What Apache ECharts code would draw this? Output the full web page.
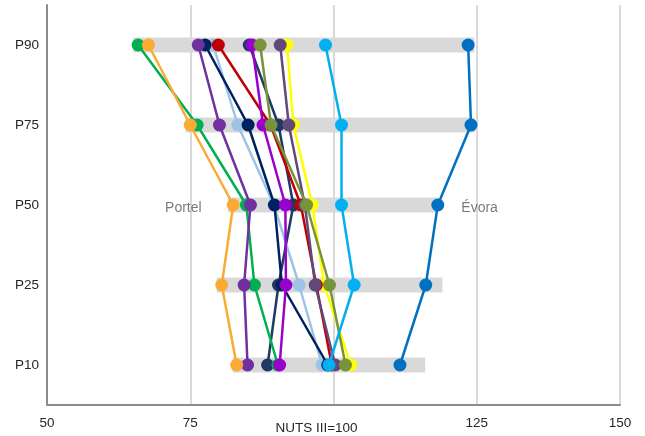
<!DOCTYPE html>
<html>
<head>
<meta charset="utf-8">
<script src="https://cdn.jsdelivr.net/npm/echarts@6/dist/echarts.min.js"></script>
<style>html,body{margin:0;padding:0;background:#fff}#c{width:645px;height:436px}</style>
</head>
<body>
<div id="c"></div>
<script>
// Percentile categories (top to bottom)
const categories = ['P90', 'P75', 'P50', 'P25', 'P10'];
// x-axis ticks
const xTicks = [50, 75, 100, 125, 150];
const xTickLabels = ['50', '75', 'NUTS III=100', '125', '150'];

// Grey range bars per percentile
const rangeMin = [65.0, 74.2, 81.6, 79.6, 82.4];
const rangeMax = [124.6, 124.7, 118.2, 119.0, 116.0];

// Municipality series (values for P90, P75, P50, P25, P10)
const yellowVals   = [91.9, 93.0, 96.3, 98.4, 103.0];
const navy2Vals    = [85.3, 90.4, 93.0, 90.4, 88.5];
const lightBlueVals= [79.0, 83.3, 89.6, 94.0, 98.0];
const redVals      = [79.9, 89.0, 94.3, 97.0, 99.7];
const navyVals     = [77.6, 85.1, 89.7, 91.0, 99.0];
const greenVals    = [65.9, 76.2, 84.8, 86.2, 90.3];
const magentaVals  = [85.8, 87.7, 91.6, 91.7, 90.6];
const darkPurpleVals=[90.7, 92.2, 95.0, 96.8, 100.3];
const oliveVals    = [87.2, 89.1, 95.3, 99.3, 102.1];
const purpleVals   = [76.4, 80.1, 85.5, 84.4, 85.0];
const portelVals   = [67.7, 75.0, 82.5, 80.5, 83.1];
const cyanVals     = [98.6, 101.4, 101.4, 103.6, 99.2];
const evoraVals    = [123.5, 124.0, 118.2, 116.1, 111.6];

// Text annotations
const annotNames = ['Portel', 'Évora'];
const annotX = [73.8, 125.5];
const annotCat = ['P50', 'P50'];

const seriesDefs = [
  {name: 'M1', vals: yellowVals, color: '#FFFF00'},
  {name: 'M2', vals: navy2Vals, color: '#1F3864'},
  {name: 'M3', vals: lightBlueVals, color: '#9DC3E6'},
  {name: 'M4', vals: redVals, color: '#C00000'},
  {name: 'M5', vals: navyVals, color: '#002060'},
  {name: 'M6', vals: greenVals, color: '#00B050'},
  {name: 'M7', vals: magentaVals, color: '#9900CC'},
  {name: 'M8', vals: darkPurpleVals, color: '#604A7B'},
  {name: 'M9', vals: oliveVals, color: '#77933C'},
  {name: 'M10', vals: purpleVals, color: '#7030A0'},
  {name: 'Portel', vals: portelVals, color: '#F9AB34'},
  {name: 'M12', vals: cyanVals, color: '#00B0F0'},
  {name: 'Évora', vals: evoraVals, color: '#0070C0'}
];

const series = [];
categories.forEach((c, i) => {
  series.push({
    type: 'line', name: 'range-' + c, silent: true, symbol: 'none', z: 1,
    data: [[rangeMin[i], c], [rangeMax[i], c]],
    lineStyle: {width: 15, color: '#D9D9D9', cap: 'butt'},
    animation: false
  });
});
seriesDefs.forEach((s, k) => {
  series.push({
    type: 'line', name: s.name, z: 3 + k,
    data: s.vals.map((v, i) => [v, categories[i]]),
    symbol: 'circle', symbolSize: 13,
    itemStyle: {color: s.color},
    lineStyle: {width: 2.5, color: s.color},
    animation: false
  });
});
series.push({
  type: 'scatter', name: 'labels', symbolSize: 0, silent: true, z: 30,
  data: annotNames.map((n, i) => ({name: n, value: [annotX[i], annotCat[i]]})),
  label: {show: true, position: 'inside', formatter: p => p.name, color: '#595959',
          fontSize: 14, fontFamily: 'Liberation Sans, Arial, sans-serif', offset: [0, 3]},
  animation: false
});

const chart = echarts.init(document.getElementById('c'), null, {renderer: 'canvas'});
chart.setOption({
  backgroundColor: '#fff',
  animation: false,
  grid: {left: 47, right: 25, top: 5, bottom: 31, containLabel: false},
  xAxis: {
    type: 'value', min: 50, max: 150, interval: 25,
    axisLine: {show: true, lineStyle: {color: '#8C8C8C', width: 2}},
    axisTick: {show: false},
    splitLine: {show: true, lineStyle: {color: '#D9D9D9', width: 2}},
    axisLabel: {
      margin: 11, color: '#262626', fontSize: 13.5, fontFamily: 'Liberation Sans, Arial, sans-serif',
      formatter: v => {
        const idx = xTicks.indexOf(v);
        const t = idx >= 0 ? xTickLabels[idx] : '';
        return v === 100 ? '{n|' + t + '}' : t;
      },
      rich: {n: {fontSize: 13.5, color: '#262626', fontFamily: 'Liberation Sans, Arial, sans-serif', padding: [5, 34, 0, 0]}}
    }
  },
  yAxis: {
    type: 'category', data: categories, inverse: true,
    axisLine: {show: true, lineStyle: {color: '#8C8C8C', width: 2}},
    axisTick: {show: false},
    splitLine: {show: false},
    axisLabel: {margin: 8, color: '#262626', fontSize: 13.5, fontFamily: 'Liberation Sans, Arial, sans-serif'}
  },
  series: series
});
</script>
</body>
</html>
